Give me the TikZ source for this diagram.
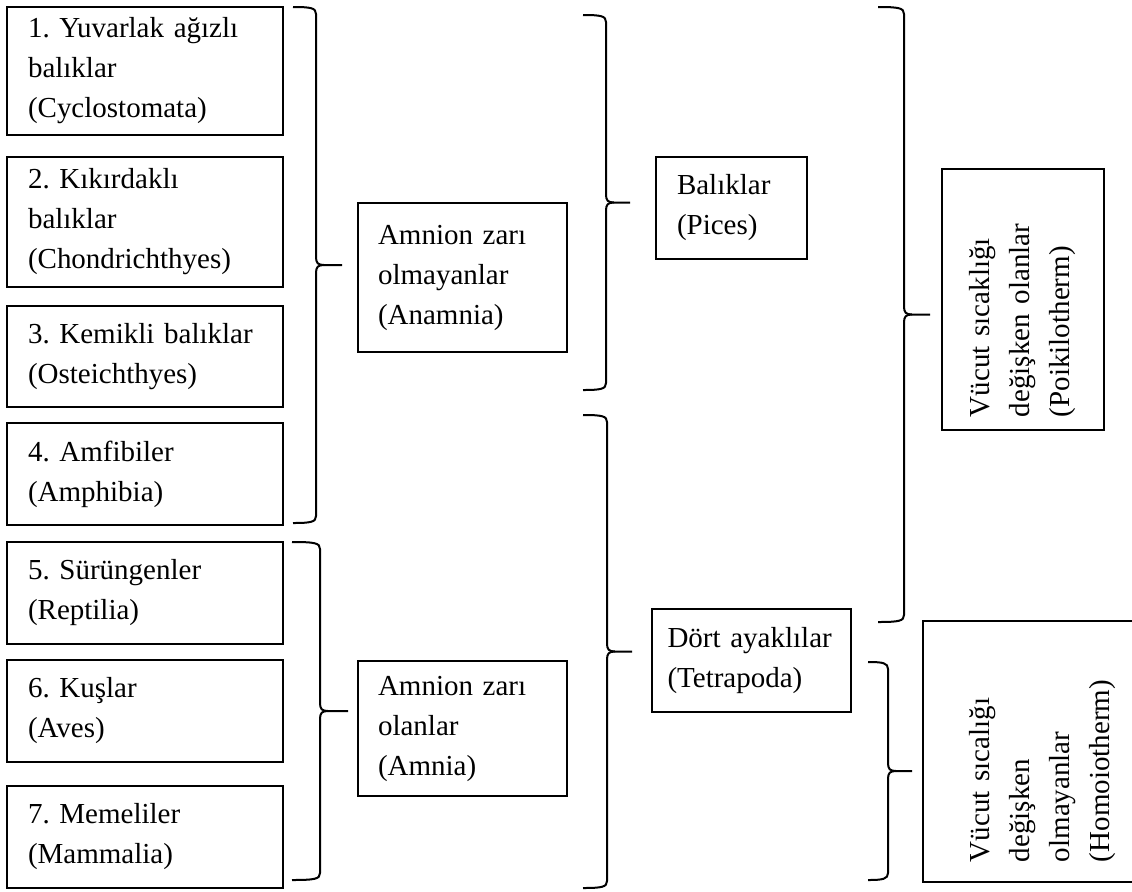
\documentclass[tikz,border=0pt]{standalone}
\usepackage{fontspec}
\setmainfont{Liberation Serif}

% curly bracket as drawn in the original: x start, x line, y top, y bottom, x tip
\newcommand{\kume}[5]{%
  \draw[kavis] (#1,#3) .. controls ({#2-5},#3) and (#2,{#3+1}) .. (#2,{#3+7})
    -- (#2,{(#3+#4)/2-8}) .. controls (#2,{(#3+#4)/2-2}) and ({#2+2},{(#3+#4)/2}) .. ({#2+8},{(#3+#4)/2})
    -- (#5,{(#3+#4)/2});
  \draw[kavis] ({#2+8},{(#3+#4)/2}) .. controls ({#2+2},{(#3+#4)/2}) and (#2,{(#3+#4)/2+2}) .. (#2,{(#3+#4)/2+8})
    -- (#2,{#4-7}) .. controls (#2,{#4-1}) and ({#2-5},#4) .. (#1,#4);
}

\begin{document}
\frenchspacing
\begin{tikzpicture}[x=0.5pt, y=-0.5pt,
  font=\fontsize{14.5pt}{20pt}\selectfont,
  kutu/.style={draw, line width=0.9pt, align=left, inner ysep=0pt},
  sol/.style={kutu, text width=117pt, inner xsep=10.5pt},
  orta/.style={kutu, text width=84.5pt, inner xsep=10pt, minimum height=74.5pt},
  dik/.style={kutu, rotate=90, minimum width=130.5pt},
  kavis/.style={line width=1pt},
]
  \useasboundingbox (0,0) rectangle (1132,891);

  % siniflar
  \node[sol, minimum height=64pt]   (s1) at (145,71)    {1. Yuvarlak ağızlı\\ balıklar\\ (Cyclostomata)};
  \node[sol, minimum height=65pt]   (s2) at (145,222)   {2. Kıkırdaklı\\ balıklar\\ (Chondrichthyes)};
  \node[sol, minimum height=50.5pt] (s3) at (145,356.5) {3. Kemikli balıklar\\ (Osteichthyes)};
  \node[sol, minimum height=51pt]   (s4) at (145,474)   {4. Amfibiler\\ (Amphibia)};
  \node[sol, minimum height=51pt]   (s5) at (145,593)   {5. Sürüngenler\\ (Reptilia)};
  \node[sol, minimum height=51pt]   (s6) at (145,711)   {6. Kuşlar\\ (Aves)};
  \node[sol, minimum height=51pt]   (s7) at (145,837)   {7. Memeliler\\ (Mammalia)};

  \node[orta] (anamnia) at (462.5,277.5) {Amnion zarı\\ olmayanlar\\ (Anamnia)};
  \node[orta, minimum height=67.5pt] (amnia) at (462.5,728.5) {Amnion zarı\\ olanlar\\ (Amnia)};

  \node[kutu, text width=54.5pt, inner xsep=10.5pt, minimum height=51pt] (pices) at (731.5,208)
       {Balıklar\\ (Pices)};
  \node[kutu, text width=84pt, inner xsep=7.75pt, minimum height=51.5pt] (tetrapoda) at (751.5,660.5)
       {Dört ayaklılar\\ (Tetrapoda)};

  \node[dik, text width=117.5pt, inner xsep=6.5pt, minimum height=81pt] (poiki) at (1023,299.5)
       {Vücut sıcaklığı\\ değişken olanlar\\ (Poikilotherm)};
  \node[dik, text width=110.5pt, inner xsep=10pt, minimum height=119.5pt] (homoio) at (1042.5,751.5)
       {Vücut sıcalığı\\ değişken\\ olmayanlar\\ (Homoiotherm)};

  % kume isaretleri
  \kume{293}{316}{7}{523}{342}
  \kume{292}{320}{542}{880}{348}
  \kume{583}{606}{15}{390}{630}
  \kume{583}{607}{415}{888}{632}
  \kume{878}{904}{7}{622}{930}
  \kume{868}{888}{662}{880}{912}
\end{tikzpicture}
\end{document}
